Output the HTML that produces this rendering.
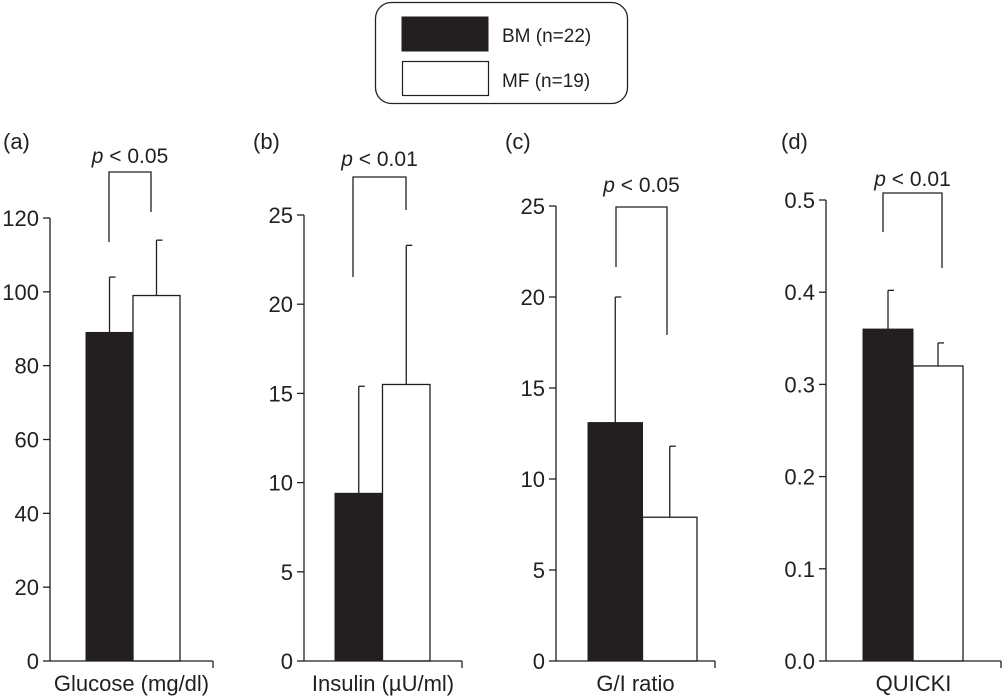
<!DOCTYPE html>
<html><head><meta charset="utf-8"><style>
body{margin:0;background:#fff;}
svg{display:block;font-family:"Liberation Sans",sans-serif;}
</style></head><body>
<svg id="chart" width="1002" height="697">
<g>
<rect x="375.5" y="2.5" width="252" height="101" rx="16" fill="#fff" stroke="#222" stroke-width="1.3"/>
<rect x="402" y="17" width="86" height="34" fill="#231f20" stroke="#231f20"/>
<rect x="402.5" y="61.5" width="86" height="34" fill="#fff" stroke="#231f20" stroke-width="1.2"/>
<text x="502" y="42" font-size="19" fill="#231f20">BM (n=22)</text>
<text x="502" y="87" font-size="19" fill="#231f20">MF (n=19)</text>
</g>
</svg>
<script>
const panelLabels=["(a)","(b)","(c)","(d)"];
const axisTitles=["Glucose (mg/dl)","Insulin (µU/ml)","G/I ratio","QUICKI"];
const yMax=[120,25,25,0.5];
const tickLabels=[["0","20","40","60","80","100","120"],["0","5","10","15","20","25"],["0","5","10","15","20","25"],["0.0","0.1","0.2","0.3","0.4","0.5"]];
const bmValues=[89,9.4,13.1,0.36];
const bmErrors=[104,15.4,20,0.402];
const mfValues=[99,15.5,7.9,0.32];
const mfErrors=[114,23.3,11.8,0.345];
const pTexts=["< 0.05","< 0.01","< 0.05","< 0.01"];
const layout=[
 {ax:50,top:218,bx:86,bw:47,xend:213,br:[109,151,172,242,212,163],lab:3},
 {ax:304,top:215,bx:335,bw:47.5,xend:462,br:[353,406,177,277,210,166],lab:253},
 {ax:556,top:206,bx:588,bw:54.5,xend:715,br:[616,667,207,267,335,192],lab:505},
 {ax:826,top:200,bx:863,bw:50,xend:1001,br:[883,942,193,232,268,186],lab:781}];
const base=661, NS="http://www.w3.org/2000/svg", svg=document.getElementById('chart');
function mk(t,a,p){const e=document.createElementNS(NS,t);for(const k in a)e.setAttribute(k,a[k]);(p||svg).appendChild(e);return e;}
layout.forEach((L,i)=>{
 const g=mk('g',{});
 
 
 const y=v=>base-(v/yMax[i])*(base-L.top);
 const st={stroke:'#231f20','stroke-width':1.3,fill:'none'};
 const ya=mk('line',Object.assign({x1:L.ax,y1:L.top,x2:L.ax,y2:base},st),g);
 
 
 const xa=mk('line',Object.assign({x1:L.ax,y1:base,x2:L.xend,y2:base},st),g);
 
 
 mk('line',Object.assign({x1:L.xend,y1:base,x2:L.xend,y2:base+7},st),g);
 const n=tickLabels[i].length;
 tickLabels[i].forEach((t,k)=>{
  const v=yMax[i]*k/(n-1), yy=y(v);
  mk('line',Object.assign({x1:L.ax-7,y1:yy,x2:L.ax,y2:yy},st),g);
  const tx=mk('text',{x:L.ax-11,y:yy+8,'font-size':22,'text-anchor':'end',fill:'#231f20'},g);
  tx.textContent=t;
  
  
 });
 const cxB=L.bx+L.bw/2, cxM=L.bx+L.bw*1.5;
 [[cxB,bmValues[i],bmErrors[i]],[cxM,mfValues[i],mfErrors[i]]].forEach(([cx,v,e])=>{
  const el=mk('line',Object.assign({x1:cx,y1:y(v),x2:cx,y2:y(e)},st),g);
  
  
  mk('line',Object.assign({x1:cx,y1:y(e),x2:cx+6,y2:y(e)},st),g);
 });
 const b1=mk('rect',{x:L.bx,y:y(bmValues[i]),width:L.bw,height:base-y(bmValues[i]),fill:'#231f20',stroke:'#231f20'},g);
 
 
 const b2=mk('rect',{x:L.bx+L.bw,y:y(mfValues[i]),width:L.bw,height:base-y(mfValues[i]),fill:'none',stroke:'#231f20','stroke-width':1.3},g);
 
 
 const B=L.br;
 const br=mk('polyline',Object.assign({points:`${B[0]},${B[3]} ${B[0]},${B[2]} ${B[1]},${B[2]} ${B[1]},${B[4]}`},st),g);
 
 
 const pt=mk('text',{x:(B[0]+B[1])/2,y:B[5],'font-size':21,'text-anchor':'middle',fill:'#231f20'},g);
 pt.innerHTML='<tspan font-style="italic">p</tspan> '+pTexts[i].replace('<','&lt;');
 
 
 const pl=mk('text',{x:L.lab,y:149,'font-size':22,fill:'#231f20'},g);
 pl.textContent=panelLabels[i];
 
 
 const at=mk('text',{x:(L.ax+L.xend)/2,y:691,'font-size':22,'text-anchor':'middle',fill:'#231f20'},g);
 at.textContent=axisTitles[i];
 
 
});
</script>
</body></html>
